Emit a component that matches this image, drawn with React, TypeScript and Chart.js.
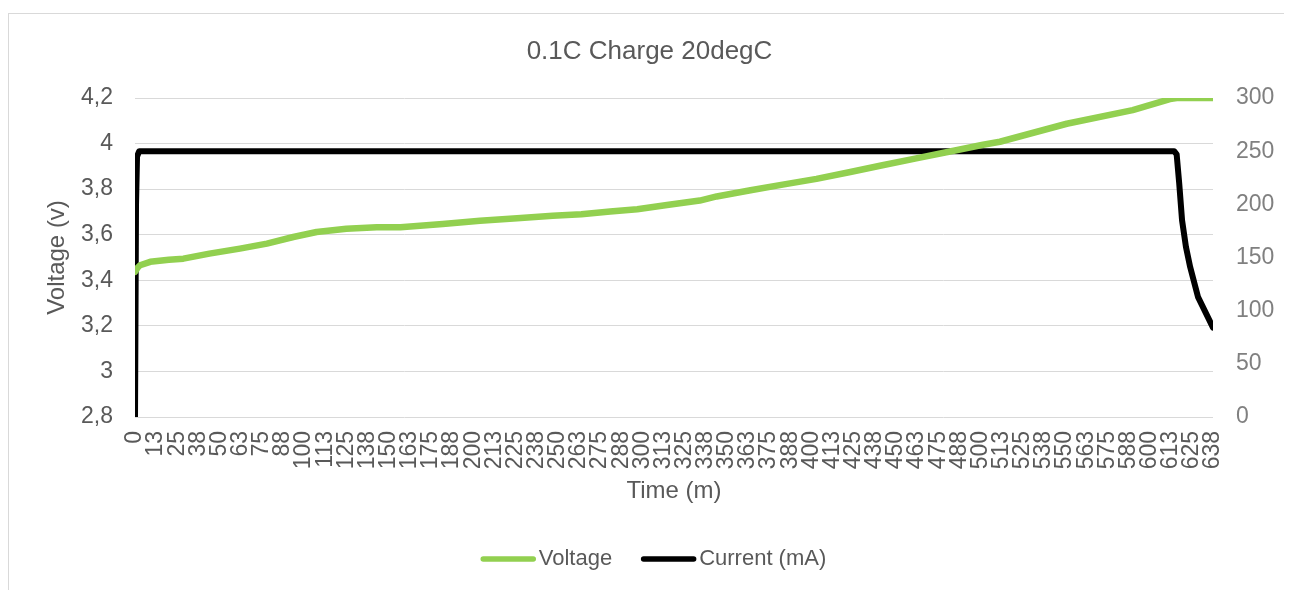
import React, { useEffect, useRef } from 'react';
import { Chart, registerables } from 'chart.js';

Chart.register(...registerables);

const FONT = '"Liberation Sans", Arial, sans-serif';

const chartTitle = '0.1C Charge 20degC';
const xAxisTitle = 'Time (m)';
const yAxisTitle = 'Voltage (v)';
const seriesLabels = ['Voltage', 'Current (mA)'];

// Voltage (V) vs time (minutes)
const voltageTimes = [
  0, 1.5, 3, 9, 20, 28.6, 44, 62, 78, 93.6, 107.4, 125, 143, 157, 182, 204, 226, 247, 264, 281,
  297, 314.6, 334, 344, 364, 383, 403, 423, 442, 462, 482, 501.5, 511.5, 551, 590, 612, 616, 637.5,
];
const voltageValues = [
  3.437, 3.455, 3.466, 3.481, 3.49, 3.495, 3.517, 3.539, 3.561, 3.59, 3.612, 3.626, 3.633, 3.633,
  3.647, 3.661, 3.672, 3.683, 3.69, 3.702, 3.712, 3.73, 3.75, 3.768, 3.795, 3.82, 3.845, 3.875,
  3.905, 3.935, 3.965, 3.995, 4.008, 4.087, 4.147, 4.195, 4.2, 4.2,
];

// Current (mA) vs time (minutes)
const currentTimes = [0, 0.6, 1.2, 2.5, 614.5, 616, 617.5, 619.2, 621.5, 624, 628.6, 637.5];
const currentValues = [0, 200, 245, 250, 250, 247, 220, 185, 160, 141, 113, 84];

// Axis ranges / tick steps
const xMin = 0;
const xMax = 637.5;
const xStep = 12.5;
const yMin = 2.8;
const yMax = 4.2;
const yStep = 0.2;
const y1Min = 0;
const y1Max = 300;
const y1Step = 50;

const legendPlugin = {
  id: 'excelLegend',
  afterDraw(chart: any) {
    const ctx = chart.ctx as CanvasRenderingContext2D;
    const y = 545;
    ctx.save();
    ctx.font = `22px ${FONT}`;
    const items = chart.data.datasets.map((ds: any) => ({ label: ds.label, color: ds.borderColor }));
    const lineW = 55;
    const gap = 3;
    const spacing = 29;
    const widths = items.map((it: any) => lineW + gap + ctx.measureText(it.label).width);
    const total = widths.reduce((a: number, b: number) => a + b, 0) + spacing * (items.length - 1);
    let x = chart.width / 2 - total / 2 + 4;
    items.forEach((it: any, i: number) => {
      ctx.strokeStyle = it.color;
      ctx.lineWidth = 5.5;
      ctx.lineCap = 'round';
      ctx.beginPath();
      ctx.moveTo(x + 2.5, y);
      ctx.lineTo(x + lineW - 2.5, y);
      ctx.stroke();
      ctx.fillStyle = '#595959';
      ctx.textBaseline = 'middle';
      ctx.textAlign = 'left';
      ctx.fillText(it.label, x + lineW + gap, y);
      x += widths[i] + spacing;
    });
    ctx.restore();
  },
};

function formatComma(v: number): string {
  return String(Math.round(v * 10) / 10).replace('.', ',');
}

export default function App() {
  const ref = useRef<HTMLCanvasElement>(null);

  useEffect(() => {
    document.body.style.overflow = 'hidden';
    const canvas = ref.current!;
    const chart = new Chart(canvas, {
      type: 'line',
      data: {
        datasets: [
          {
            label: seriesLabels[0],
            data: voltageTimes.map((t, i) => ({ x: t, y: voltageValues[i] })),
            borderColor: '#92D050',
            backgroundColor: '#92D050',
            borderWidth: 6.5,
            pointRadius: 0,
            tension: 0,
            yAxisID: 'y',
            order: 0,
            borderJoinStyle: 'round',
            borderCapStyle: 'round',
          },
          {
            label: seriesLabels[1],
            data: currentTimes.map((t, i) => ({ x: t, y: currentValues[i] })),
            borderColor: '#000000',
            backgroundColor: '#000000',
            borderWidth: 6,
            pointRadius: 0,
            tension: 0,
            yAxisID: 'y1',
            order: 1,
            borderJoinStyle: 'round',
            borderCapStyle: 'round',
          },
        ],
      },
      options: {
        responsive: false,
        animation: false,
        layout: { padding: { left: 0, right: 0, top: 0, bottom: 87 } },
        plugins: {
          legend: { display: false },
          tooltip: { enabled: false },
          title: {
            display: true,
            text: chartTitle,
            color: '#595959',
            font: { family: FONT, size: 26, weight: 'normal' },
            padding: { top: 22.4, bottom: 30.4 },
          },
        },
        scales: {
          x: {
            type: 'linear',
            min: xMin,
            max: xMax,
            grid: { display: false },
            border: { display: false },
            ticks: {
              stepSize: xStep,
              autoSkip: false,
              maxRotation: 90,
              minRotation: 90,
              padding: 6,
              color: '#595959',
              font: { family: FONT, size: 23 },
              callback: (v: any) => String(Math.round(Number(v))),
            },
            title: {
              display: true,
              text: xAxisTitle,
              color: '#595959',
              font: { family: FONT, size: 24 },
              padding: { top: 0, bottom: 1.6 },
            },
            afterFit: (s: any) => {
              s.height = 90;
            },
          },
          y: {
            type: 'linear',
            position: 'left',
            min: yMin,
            max: yMax,
            grid: { color: '#d9d9d9', lineWidth: 1, drawTicks: false },
            border: { display: false },
            ticks: {
              stepSize: yStep,
              padding: 22,
              color: '#595959',
              font: { family: FONT, size: 23 },
              callback: (v: any) => formatComma(Number(v)),
            },
            title: {
              display: true,
              text: yAxisTitle,
              color: '#595959',
              font: { family: FONT, size: 24 },
              padding: { top: 33.6, bottom: 0 },
            },
            afterFit: (s: any) => {
              s.width = 126;
            },
          },
          y1: {
            type: 'linear',
            position: 'right',
            min: y1Min,
            max: y1Max,
            grid: { display: false, drawTicks: false },
            border: { display: false },
            ticks: {
              stepSize: y1Step,
              padding: 23,
              color: '#808080',
              font: { family: FONT, size: 23 },
            },
            afterFit: (s: any) => {
              s.width = 77;
            },
          },
        },
      } as any,
      plugins: [legendPlugin],
    });
    return () => chart.destroy();
  }, []);

  return (
    <div style={{ paddingTop: 5 }}>
      <div
        style={{
          width: 1283,
          height: 600,
          border: '1px solid #d9d9d9',
          boxSizing: 'border-box',
          background: '#ffffff',
        }}
      >
        <canvas ref={ref} width={1281} height={580} style={{ display: 'block' }} />
      </div>
    </div>
  );
}
